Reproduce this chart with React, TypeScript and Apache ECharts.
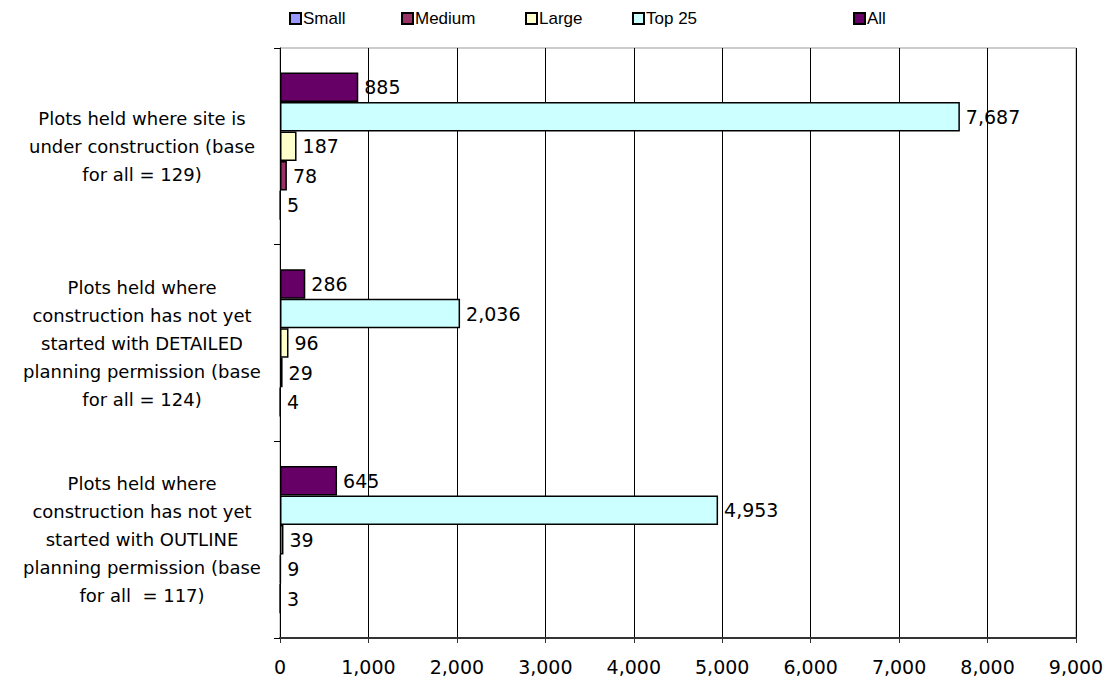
import React, { useEffect, useRef } from "react";
import * as echarts from "echarts";

// Categories listed bottom-to-top (ECharts draws the first category at the bottom)
const categories = [
  "Plots held where\nconstruction has not yet\nstarted with OUTLINE\nplanning permission (base\nfor all  = 117)",
  "Plots held where\nconstruction has not yet\nstarted with DETAILED\nplanning permission (base\nfor all = 124)",
  "Plots held where site is\nunder construction (base\nfor all = 129)",
];

const legendNames = ["Small", "Medium", "Large", "Top 25", "All"];
const small = [3, 4, 5];
const medium = [9, 29, 78];
const large = [39, 96, 187];
const top25 = [4953, 2036, 7687];
const all = [645, 286, 885];

// Series drawn top-to-bottom within each category: All, Top 25, Large, Medium, Small
const seriesOrder = ["All", "Top 25", "Large", "Medium", "Small"];
const valuesByName: Record<string, number[]> = {
  Small: small,
  Medium: medium,
  Large: large,
  "Top 25": top25,
  All: all,
};
const colorsByName: Record<string, string> = {
  Small: "#9999FF",
  Medium: "#993366",
  Large: "#FFFFCC",
  "Top 25": "#CCFFFF",
  All: "#660066",
};
const legendLefts = [284, 396, 520, 627, 848];

const xMin = 0;
const xMax = 9000;
const xInterval = 1000;

const FONT = "DejaVu Sans";

const fmt = (v: number) => v.toLocaleString("en-US");

export default function App() {
  const ref = useRef<HTMLDivElement>(null);
  useEffect(() => {
    document.body.style.margin = "0";
    if (!ref.current) return;
    const chart = echarts.init(ref.current, undefined, { renderer: "svg" });
    chart.setOption({
      animation: false,
      backgroundColor: "#ffffff",
      textStyle: { fontFamily: FONT },
      legend: legendNames.map((n, i) => ({
        data: [n],
        left: legendLefts[i],
        top: 5,
        itemWidth: 11,
        itemHeight: 11,
        itemGap: 0,
        icon: "rect",
        textStyle: { fontFamily: "Liberation Sans", fontSize: 17, color: "#000", padding: [0, 0, 0, -3] },
        selectedMode: false,
      })),
      grid: {
        left: 280,
        right: 36,
        top: 48,
        bottom: 43,
        containLabel: false,
        outerBoundsMode: "none",
        show: true,
        borderColor: "#999",
        borderWidth: 1,
      },
      xAxis: {
        type: "value",
        min: xMin,
        max: xMax,
        interval: xInterval,
        axisLine: { show: true, lineStyle: { color: "#333", width: 2 } },
        axisTick: { show: true, length: 5, lineStyle: { color: "#333" } },
        splitLine: { show: true, lineStyle: { color: "#000", width: 1 } },
        axisLabel: {
          formatter: (v: number) => fmt(v),
          fontFamily: FONT,
          fontSize: 19,
          color: "#000",
          margin: 19,
        },
      },
      yAxis: {
        type: "category",
        data: categories,
        axisLine: { show: true, lineStyle: { color: "#000", width: 1 } },
        axisTick: { show: true, length: 6, lineStyle: { color: "#000" } },
        axisLabel: {
          fontFamily: FONT,
          fontSize: 18,
          lineHeight: 28,
          color: "#000",
          align: "center",
          margin: 138,
        },
      },
      series: seriesOrder.map((n) => ({
        name: n,
        type: "bar",
        data: valuesByName[n],
        barGap: "0%",
        barCategoryGap: "25%",
        itemStyle: { color: colorsByName[n], borderColor: "#000", borderWidth: 1.5 },
        label: {
          show: true,
          position: "right",
          distance: 6,
          formatter: (p: any) => fmt(p.value),
          fontFamily: FONT,
          fontSize: 19,
          color: "#000",
        },
      })),
    });
    return () => chart.dispose();
  }, []);
  return <div ref={ref} style={{ width: 1112, height: 681 }} />;
}
